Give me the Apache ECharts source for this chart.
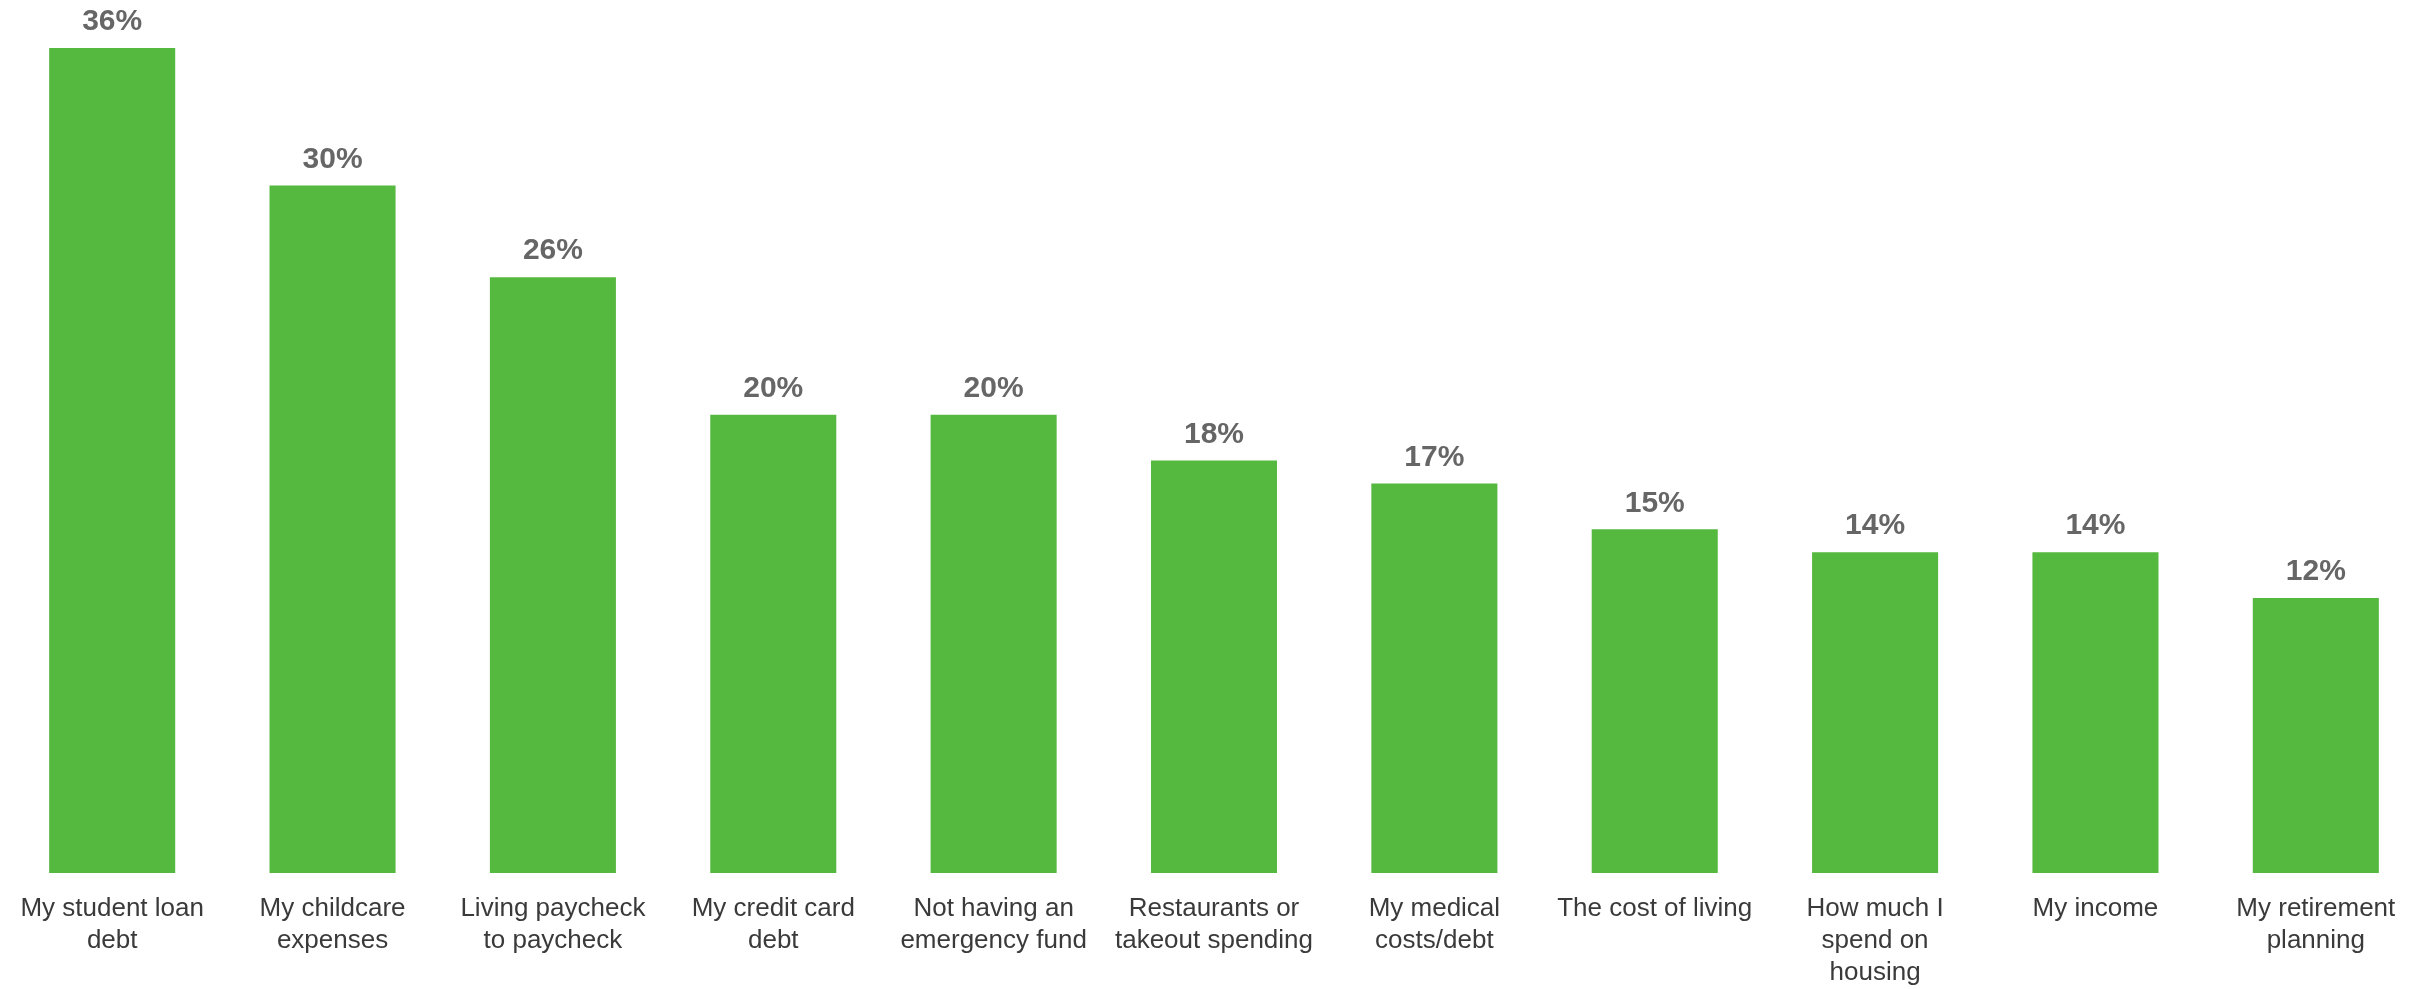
<!DOCTYPE html>
<html>
<head>
<meta charset="utf-8">
<script src="https://cdn.jsdelivr.net/npm/echarts@6/dist/echarts.min.js"></script>
<style>
  html, body { margin: 0; padding: 0; background: #fff; }
  #chart { width: 2430px; height: 989px; }
</style>
</head>
<body>
<div id="chart"></div>
<script>
// Share of respondents naming each item as a source of financial stress (%)
const categories = [
  'My student loan\ndebt',
  'My childcare\nexpenses',
  'Living paycheck\nto paycheck',
  'My credit card\ndebt',
  'Not having an\nemergency fund',
  'Restaurants or\ntakeout spending',
  'My medical\ncosts/debt',
  'The cost of living',
  'How much I\nspend on\nhousing',
  'My income',
  'My retirement\nplanning'
];
const shares = [36, 30, 26, 20, 20, 18, 17, 15, 14, 14, 12];

const chart = echarts.init(document.getElementById('chart'), null, { renderer: 'canvas' });
chart.setOption({
  animation: false,
  backgroundColor: '#ffffff',
  grid: { left: 2, right: 4, top: 48, bottom: 113, containLabel: false },
  xAxis: {
    type: 'category',
    data: categories,
    axisLine: { show: false },
    axisTick: { show: false },
    axisLabel: {
      interval: 0,
      margin: 20,
      color: '#3a3a3a',
      fontFamily: 'Liberation Sans, Arial, sans-serif',
      fontSize: 26,
      lineHeight: 32,
      align: 'center'
    }
  },
  yAxis: {
    type: 'value',
    min: 0,
    max: 36,
    show: false,
    splitLine: { show: false }
  },
  series: [{
    type: 'bar',
    data: shares,
    barCategoryGap: '42.8%',
    itemStyle: { color: '#55b83f' },
    label: {
      show: true,
      position: 'top',
      distance: 11,
      formatter: '{c}%',
      color: '#666666',
      fontWeight: 'bold',
      fontFamily: 'Liberation Sans, Arial, sans-serif',
      fontSize: 30
    }
  }]
});
</script>
</body>
</html>
